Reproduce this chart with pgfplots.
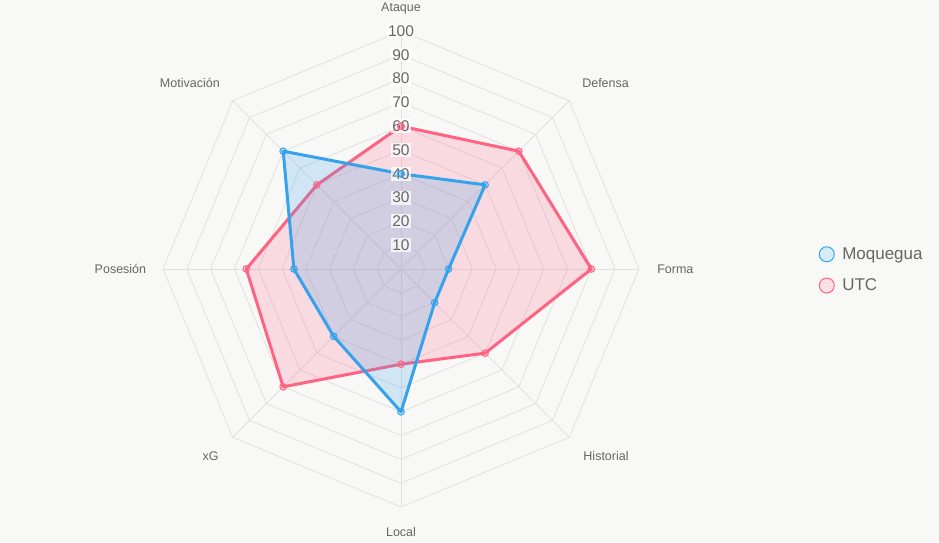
\documentclass[border=0pt]{standalone}
\usepackage{fontspec}
\setmainfont{Liberation Sans}
\usepackage{pgfplots}
\pgfplotsset{compat=1.18}
\usepgfplotslibrary{polar}
\definecolor{bg}{HTML}{F8F8F7}
\definecolor{blueC}{RGB}{54,162,235}
\definecolor{pinkC}{RGB}{255,99,132}
\definecolor{gridC}{HTML}{E0E0E0}
\definecolor{txt}{HTML}{666666}
\begin{document}
\begin{tikzpicture}[x=1pt,y=1pt]
\fill[bg] (0,0) rectangle (939,542);
\useasboundingbox (0,0) rectangle (939,542);
\begin{polaraxis}[
  at={(401pt,273pt)}, anchor=center,
  scale only axis, width=476pt, height=476pt,
  hide axis, xmin=0, xmax=360, ymin=0, ymax=100,
  clip=false,
  legend style={at={(axis description cs:1.372,0.498)}, anchor=west, draw=none, fill=none,
    font=\fontsize{17}{20}\selectfont, text=txt, row sep=16pt,
    nodes={inner sep=1pt},
    /tikz/every odd column/.append style={column sep=7pt}},
  legend cell align=left,
]
% legend
\addlegendimage{only marks, mark=*, mark size=7.5pt, mark options={fill=blueC!20, draw=blueC, line width=1pt}}
\addlegendentry{Moquegua}
\addlegendimage{only marks, mark=*, mark size=7.5pt, mark options={fill=pinkC!20, draw=pinkC, line width=1pt}}
\addlegendentry{UTC}
% grid
\pgfplotsinvokeforeach{10,20,...,100}{
  \addplot[gridC, line width=0.8pt, forget plot] coordinates {(0,#1)(45,#1)(90,#1)(135,#1)(180,#1)(225,#1)(270,#1)(315,#1)(360,#1)};
}
\pgfplotsinvokeforeach{0,45,...,315}{
  \addplot[gridC, line width=0.8pt, forget plot] coordinates {(#1,0)(#1,100)};
}
% UTC
\addplot[forget plot, draw=pinkC, line width=3pt, line join=round, line cap=round,
  fill=pinkC, fill opacity=0.2, draw opacity=1,
  mark=*, mark size=3.3pt, mark options={fill=pinkC, fill opacity=0.2, draw=pinkC, draw opacity=1, line width=1pt}]
  coordinates {(90,60)(45,70)(0,80)(315,50)(270,40)(225,70)(180,65)(135,50)(90,60)};
% Moquegua
\addplot[forget plot, draw=blueC, line width=3pt, line join=round, line cap=round,
  fill=blueC, fill opacity=0.2, draw opacity=1,
  mark=*, mark size=3.3pt, mark options={fill=blueC, fill opacity=0.2, draw=blueC, draw opacity=1, line width=1pt}]
  coordinates {(90,40)(45,50)(0,20)(315,20)(270,60)(225,40)(180,45)(135,70)(90,40)};
% tick labels
\pgfplotsinvokeforeach{10,20,...,100}{
  \node[fill=white, fill opacity=0.75, text opacity=1, text=txt, inner sep=1.5pt,
    font=\fontsize{15.5}{17}\selectfont] at (axis cs:90,#1) {#1};
}
% point labels
\begin{scope}[every node/.style={text=txt, inner sep=0pt, font=\fontsize{12.5}{14}\selectfont}]
\node[anchor=south] at (axis cs:90,107) {Ataque};
\node[anchor=south west] at (axis cs:45,107.6) {Defensa};
\node[anchor=west] at (axis cs:0,107.6) {Forma};
\node[anchor=north west] at (axis cs:315,108.3) {Historial};
\node[anchor=north] at (axis cs:270,108.3) {Local};
\node[anchor=north east] at (axis cs:225,108.3) {xG};
\node[anchor=east] at (axis cs:180,107) {Posesión};
\node[anchor=south east] at (axis cs:135,107.6) {Motivación};
\end{scope}
\end{polaraxis}
\end{tikzpicture}
\end{document}
